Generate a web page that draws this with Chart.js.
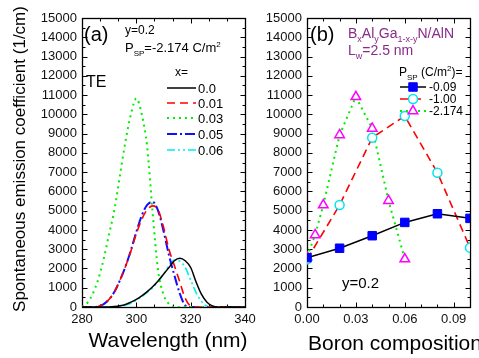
<!DOCTYPE html>
<html>
<head>
<meta charset="utf-8">
<script src="https://cdn.jsdelivr.net/npm/chart.js@4.4.1/dist/chart.umd.min.js"></script>
<style>
  body { margin: 0; background: #fff; }
  #wrap { position: relative; width: 479px; height: 358px; overflow: hidden; }
  canvas { position: absolute; top: 0; }
  #chartA { left: 0; }
  #chartB { left: 262px; }
</style>
</head>
<body>
<div id="wrap">
  <canvas id="chartA" width="262" height="358"></canvas>
  <canvas id="chartB" width="217" height="358"></canvas>
</div>
<script>
// ---- data: panel (a), TE spectra vs wavelength (nm) ----
const wavelength = [280, 282, 284, 286, 288, 290, 292, 294, 296, 298, 300, 302, 304, 306, 308, 310,
                    312, 314, 316, 318, 320, 322, 324, 326, 328, 330, 332, 334, 336, 338, 340];
const specX000 = [0, 0, 0, 0, 0, 0, 20, 60, 130, 250, 400, 580, 800, 1050, 1350, 1700,
                  2050, 2400, 2530, 2400, 2050, 1300, 650, 250, 60, 0, 0, 0, 0, 0, 0];
const specX001 = [0, 0, 0, 30, 150, 400, 800, 1400, 2100, 2900, 3800, 4550, 5050, 5250, 5050, 4150,
                  3000, 2150, 1300, 450, 50, 0, 0, 0, 0, 0, 0, 0, 0, 0, 0];
const specX003 = [0, 220, 700, 1450, 2500, 3800, 5100, 6850, 8600, 10000, 10830, 10000, 8300, 4900, 1900, 650,
                  150, 0, 0, 0, 0, 0, 0, 0, 0, 0, 0, 0, 0, 0, 0];
const specX005 = [0, 0, 0, 30, 150, 400, 800, 1400, 2100, 2950, 3900, 4750, 5300, 5460, 5000, 3950,
                  2700, 1650, 700, 80, 0, 0, 0, 0, 0, 0, 0, 0, 0, 0, 0];
const specX006 = [0, 0, 0, 0, 0, 0, 10, 40, 100, 200, 350, 530, 760, 1000, 1320, 1700,
                  2150, 2440, 2380, 2050, 1400, 750, 280, 40, 0, 0, 0, 0, 0, 0, 0];
const compLabels = ["0.0", "0.01", "0.03", "0.05", "0.06"];

// ---- data: panel (b), peak coefficient vs boron composition ----
const boronP009 = [0, 0.02, 0.04, 0.06, 0.08, 0.10];
const peakP009  = [2560, 3050, 3700, 4390, 4840, 4600];
const boronP100 = [0, 0.02, 0.04, 0.06, 0.08, 0.10];
const peakP100  = [2470, 5290, 8790, 9910, 6970, 3080];
const boronP2174 = [0, 0.005, 0.01, 0.02, 0.03, 0.04, 0.05, 0.06];
const peakP2174  = [2600, 3740, 5290, 8930, 10910, 9270, 5520, 2490];
const psLabels = ["-0.09", "-1.00", "-2.174"];

// ---- tick labels ----
const yTicks = [0, 1000, 2000, 3000, 4000, 5000, 6000, 7000, 8000, 9000, 10000, 11000, 12000, 13000, 14000, 15000];
const xTicksA = [280, 300, 320, 340];
const xTicksB = [0.00, 0.03, 0.06, 0.09];

const FONT = '"Liberation Sans", Arial, sans-serif';
Chart.defaults.font.family = FONT;
Chart.defaults.font.size = 13;
Chart.defaults.color = '#111';

const pts = (xs, ys) => xs.map((x, i) => ({ x, y: ys[i] }));

function setFont(ctx, size) { ctx.font = size + 'px ' + FONT; }

// text with sub/superscript parts: [text, ''|'sub'|'sup']
function richText(ctx, x, y, parts, size) {
  let cx = x;
  parts.forEach(([t, m]) => {
    const s = m ? Math.round(size * 0.65) : size;
    setFont(ctx, s);
    const dy = m === 'sub' ? size * 0.3 : (m === 'sup' ? -size * 0.42 : 0);
    ctx.fillText(t, cx, y + dy);
    cx += ctx.measureText(t).width;
  });
}

// frame box + inward ticks on all four sides
const frameTicks = {
  id: 'frameTicks',
  beforeDatasetsDraw(chart, args, opts) {
    const { ctx, chartArea: a, scales: { x, y } } = chart;
    const L = Math.round(a.left) + 0.5, R = Math.round(a.right) + 0.5;
    const T = Math.round(a.top) + 0.5, B = Math.round(a.bottom) + 0.5;
    ctx.save();
    ctx.strokeStyle = '#000';
    ctx.lineWidth = 1;
    ctx.beginPath();
    for (let i = 0; x.min + i * opts.xMinor <= x.max + 1e-9; i++) {
      const px = Math.round(x.getPixelForValue(x.min + i * opts.xMinor)) + 0.5;
      const len = i % 3 === 0 ? 5 : 3;
      ctx.moveTo(px, B); ctx.lineTo(px, B - len);
      ctx.moveTo(px, T); ctx.lineTo(px, T + len);
    }
    for (let i = 0; i * 500 <= y.max; i++) {
      const py = Math.round(y.getPixelForValue(i * 500)) + 0.5;
      const len = i % 2 === 0 ? 5 : 3;
      ctx.moveTo(L, py); ctx.lineTo(L + len, py);
      ctx.moveTo(R, py); ctx.lineTo(R - len, py);
    }
    ctx.stroke();
    ctx.lineWidth = 1.3;
    ctx.strokeRect(L, T, R - L, B - T);
    ctx.restore();
  }
};

const notesA = {
  id: 'notesA',
  afterDraw(chart) {
    const ctx = chart.ctx;
    ctx.save();
    ctx.fillStyle = '#000';
    ctx.textBaseline = 'alphabetic';
    setFont(ctx, 20); ctx.fillText('(a)', 84, 41);
    setFont(ctx, 12); ctx.fillText('y=0.2', 125, 34);
    richText(ctx, 125, 52, [['P', ''], ['SP', 'sub'], ['=-2.174 C/m', ''], ['2', 'sup']], 13);
    setFont(ctx, 16); ctx.fillText('TE', 86, 87);
    setFont(ctx, 12); ctx.fillText('x=', 175, 76);
    // axis titles
    setFont(ctx, 21);
    ctx.textAlign = 'center';
    ctx.fillText('Wavelength (nm)', 168, 347);
    ctx.save();
    ctx.translate(25, 159);
    ctx.rotate(-Math.PI / 2);
    setFont(ctx, 17);
    ctx.fillText('Spontaneous emission coefficient (1/cm)', 0, 0);
    ctx.restore();
    // legend
    ctx.textAlign = 'left';
    ctx.textBaseline = 'middle';
    const rows = [88, 103, 118, 134, 150];
    chart.data.datasets.forEach((ds, i) => {
      const yy = rows[i];
      ctx.strokeStyle = ds.borderColor;
      ctx.lineWidth = ds.borderWidth;
      ctx.setLineDash(ds.borderDash || []);
      ctx.beginPath(); ctx.moveTo(167, yy); ctx.lineTo(196, yy); ctx.stroke();
      ctx.setLineDash([]);
      setFont(ctx, 13);
      ctx.fillStyle = '#000';
      ctx.fillText(ds.label, 198, yy + 1);
    });
    ctx.restore();
  }
};

const OX = 262; // canvas B page offset
const notesB = {
  id: 'notesB',
  afterDraw(chart) {
    const ctx = chart.ctx;
    ctx.save();
    ctx.fillStyle = '#000';
    ctx.textBaseline = 'alphabetic';
    setFont(ctx, 20); ctx.fillText('(b)', 310 - OX, 41);
    ctx.fillStyle = '#8a2b8a';
    richText(ctx, 348 - OX, 38, [['B', ''], ['x', 'sub'], ['Al', ''], ['y', 'sub'], ['Ga', ''], ['1-x-y', 'sub'], ['N/AlN', '']], 14);
    richText(ctx, 348 - OX, 55, [['L', ''], ['w', 'sub'], ['=2.5 nm', '']], 14);
    ctx.fillStyle = '#000';
    richText(ctx, 399 - OX, 76, [['P', ''], ['SP', 'sub'], [' (C/m', ''], ['2', 'sup'], [')=', '']], 12);
    setFont(ctx, 15); ctx.fillText('y=0.2', 342 - OX, 288);
    setFont(ctx, 21); ctx.fillText('Boron composition', 308 - OX, 350);
    // legend
    ctx.textBaseline = 'middle';
    const rows = [87, 99, 111];
    chart.data.datasets.forEach((ds, i) => {
      const yy = rows[i];
      ctx.strokeStyle = ds.borderColor;
      ctx.lineWidth = ds.borderWidth;
      ctx.setLineDash(ds.borderDash || []);
      ctx.beginPath(); ctx.moveTo(400 - OX, yy); ctx.lineTo(426 - OX, yy); ctx.stroke();
      ctx.setLineDash([]);
      ctx.fillStyle = ds.pointBackgroundColor;
      ctx.strokeStyle = ds.pointBorderColor;
      ctx.lineWidth = ds.pointBorderWidth;
      Chart.helpers.drawPoint(ctx, { pointStyle: ds.pointStyle, radius: ds.pointRadius, borderWidth: ds.pointBorderWidth, rotation: 0 }, 413 - OX, yy);
      ctx.fillStyle = '#000';
      setFont(ctx, 12);
      ctx.fillText(ds.label, 429 - OX, yy + 1);
    });
    ctx.restore();
  }
};

function axes(xMin, xMax, xTicks, xFmt, yWidth) {
  return {
    x: {
      type: 'linear', min: xMin, max: xMax,
      grid: { display: false, drawTicks: false }, border: { display: false },
      afterBuildTicks: s => { s.ticks = xTicks.map(v => ({ value: v })); },
      ticks: { padding: 5, color: '#111', font: { size: 13 }, callback: xFmt, maxRotation: 0, autoSkip: false },
      afterFit: s => { s.height = 51; }
    },
    y: {
      type: 'linear', min: 0, max: 15000,
      grid: { display: false, drawTicks: false }, border: { display: false },
      afterBuildTicks: s => { s.ticks = yTicks.map(v => ({ value: v })); },
      ticks: { padding: 5, color: '#111', font: { size: 13 }, callback: v => String(v), autoSkip: false },
      afterFit: s => { s.width = yWidth; }
    }
  };
}

const lineA = (label, ys, color, width, dash) => ({
  label, data: pts(wavelength, ys), borderColor: color, borderWidth: width, borderDash: dash,
  pointRadius: 0, fill: false, cubicInterpolationMode: 'monotone'
});

new Chart(document.getElementById('chartA'), {
  type: 'line',
  data: {
    datasets: [
      lineA(compLabels[0], specX000, '#000000', 1.5, []),
      lineA(compLabels[1], specX001, '#ff0000', 1.6, [8, 5]),
      lineA(compLabels[2], specX003, '#00ee00', 2, [2, 4]),
      lineA(compLabels[3], specX005, '#1010ff', 2, [10, 3, 2, 3]),
      lineA(compLabels[4], specX006, '#00eeee', 1.6, [8, 3, 2, 3, 2, 3])
    ]
  },
  options: {
    responsive: false, animation: false, devicePixelRatio: 1,
    layout: { padding: { top: 18, right: 17, left: 0, bottom: 0 } },
    plugins: { legend: { display: false }, tooltip: { enabled: false }, frameTicks: { xMinor: 20 / 3 } },
    scales: axes(280, 340, xTicksA, v => String(v), 82)
  },
  plugins: [frameTicks, notesA]
});

new Chart(document.getElementById('chartB'), {
  type: 'line',
  data: {
    datasets: [
      { label: psLabels[0], data: pts(boronP009, peakP009), borderColor: '#000000', borderWidth: 1.5,
        pointStyle: 'rect', pointRadius: 6, pointBackgroundColor: '#0000ff', pointBorderColor: '#0000ff', pointBorderWidth: 1 },
      { label: psLabels[1], data: pts(boronP100, peakP100), borderColor: '#ff0000', borderWidth: 1.6, borderDash: [8, 5],
        pointStyle: 'circle', pointRadius: 4.5, pointBackgroundColor: '#ffffff', pointBorderColor: '#00e5ee', pointBorderWidth: 1.5 },
      { label: psLabels[2], data: pts(boronP2174, peakP2174), borderColor: '#00ee00', borderWidth: 2, borderDash: [2, 4],
        pointStyle: 'triangle', pointRadius: 5.5, pointBackgroundColor: '#ffffff', pointBorderColor: '#ff00ff', pointBorderWidth: 1.5 }
    ]
  },
  options: {
    responsive: false, animation: false, devicePixelRatio: 1,
    layout: { padding: { top: 18, right: 9, left: 0, bottom: 0 } },
    elements: { line: { tension: 0 } },
    plugins: { legend: { display: false }, tooltip: { enabled: false }, frameTicks: { xMinor: 0.01 } },
    scales: axes(0, 0.1, xTicksB, v => v.toFixed(2), 45)
  },
  plugins: [frameTicks, notesB]
});
</script>
</body>
</html>
